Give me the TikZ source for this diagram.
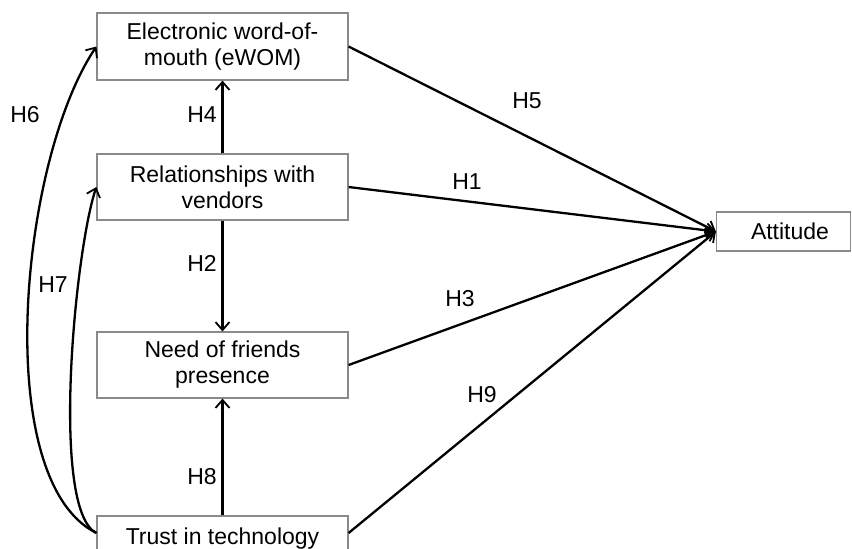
\documentclass[tikz,border=0pt]{standalone}
\usepackage{fontspec}
\setmainfont{Liberation Sans}
\usetikzlibrary{arrows.meta}
\definecolor{boxgray}{HTML}{8A8A8A}
\begin{document}
\begin{tikzpicture}[x=1pt,y=-1pt,
  box/.style={draw=boxgray, line width=1.2pt, fill=white, minimum width=251pt,
    minimum height=66pt, align=center, inner sep=0pt,
    font=\fontsize{23}{26}\selectfont},
  link/.style={line width=2.3pt,
    -{Straight Barb[length=8pt,width=14pt,line width=1.8pt]}},
  hyp/.style={font=\fontsize{23}{26}\selectfont, inner sep=0pt}]
\useasboundingbox (0,0) rectangle (852,549);
\clip (0,0) rectangle (852,549);

% constructs
\node[box, minimum height=67pt] (ewom) at (222.5,46.5) {Electronic word-of-\\mouth (eWOM)};
\node[box] (rel)   at (222.5,187) {Relationships with\\vendors};
\node[box] (need)  at (222.5,365) {Need of friends\\presence};
\node[box] (trust) at (222.5,549) {Trust in technology\\\phantom{x}};
\node[box, minimum width=134pt, minimum height=39pt] (att) at (783.5,231.5) {\hspace*{13pt}Attitude};

% vertical paths
\draw[link] (rel) -- (ewom);
\draw[link] (rel) -- (need);
\draw[link] (trust) -- (need);

% paths into attitude
\draw[link] (ewom.east)  -- (att.west);
\draw[link] (rel.east)   -- (att.west);
\draw[link] (need.east)  -- (att.west);
\draw[link] ([yshift=16pt]trust.east) -- (att.west);

% curved paths on the left
\coordinate (tw) at ([yshift=16pt]trust.west);
\draw[link] (tw) .. controls (-10,480) and (20,160) .. (ewom.west);
\draw[link] (tw) .. controls (50,510) and (75,250) .. (rel.west);

% hypothesis labels
\node[hyp] (h1) at (467,182) {H1};
\node[hyp] (h2) at (202,263) {H2};
\node[hyp] (h3) at (460,299) {H3};
\node[hyp] (h4) at (202,115) {H4};
\node[hyp] (h5) at (527,101) {H5};
\node[hyp] (h6) at (25,115) {H6};
\node[hyp] (h7) at (53,285) {H7};
\node[hyp] (h8) at (202,477) {H8};
\node[hyp] (h9) at (482,395) {H9};
\end{tikzpicture}
\end{document}
